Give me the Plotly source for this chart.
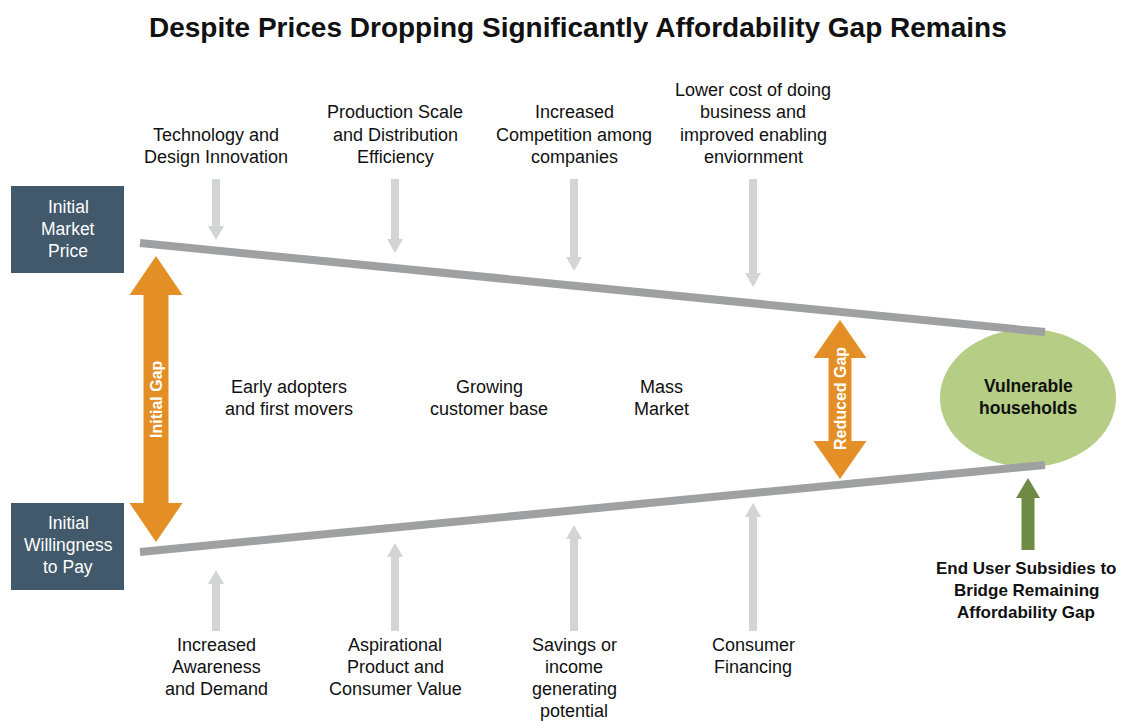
import plotly.graph_objects as go

# ---------------- content ----------------
title_text = "Despite Prices Dropping Significantly Affordability Gap Remains"
top_drivers = ["Technology and<br>Design Innovation",
               "Production Scale<br>and Distribution<br>Efficiency",
               "Increased<br>Competition among<br>companies",
               "Lower cost of doing<br>business and<br>improved enabling<br>enviornment"]
bottom_drivers = ["Increased<br>Awareness<br>and Demand",
                  "Aspirational<br>Product and<br>Consumer Value",
                  "Savings or<br>income<br>generating<br>potential",
                  "Consumer<br>Financing"]
stages = ["Early adopters<br>and first movers", "Growing<br>customer base", "Mass<br>Market"]
box_labels = ["Initial<br>Market<br>Price", "Initial<br>Willingness<br>to Pay"]
gap_labels = ["Initial Gap", "Reduced Gap"]
end_label = "Vulnerable<br>households"
subsidy_label = "End User Subsidies to<br>Bridge Remaining<br>Affordability Gap"

# ---------------- layout geometry ----------------
W, H = 1125, 721
OFF = 8  # page body margin
FONT = "Liberation Sans, Arial, sans-serif"
C_BOX = "#41596a"
C_ORANGE = "#e38f26"
C_LINE = "#9fa0a2"
C_ARROW = "#d3d4d5"
C_ELLIPSE = "#b5cd84"
C_GREEN = "#6e8b45"

driver_x = [216, 395, 574, 753]
top_tips = [240, 253, 271, 287]
bottom_tips = [570, 543, 525, 503]

shapes = []
annotations = []


def text_lines(label, x, y0, size=18, color="#111", bold=False, step=22.3):
    for i, ln in enumerate(label.split("<br>")):
        t = f"<b>{ln}</b>" if bold else ln
        annotations.append(dict(x=x, y=y0 + i * step, text=t, showarrow=False,
                                xanchor="center", yanchor="middle",
                                font=dict(family=FONT, size=size, color=color)))


def arrow_down(x, y_top, y_tip, sw, hw, hl, color):
    p = (f"M {x-sw/2},{y_top} L {x+sw/2},{y_top} L {x+sw/2},{y_tip-hl} "
         f"L {x+hw/2},{y_tip-hl} L {x},{y_tip} L {x-hw/2},{y_tip-hl} "
         f"L {x-sw/2},{y_tip-hl} Z")
    shapes.append(dict(type="path", path=p, fillcolor=color, line=dict(width=0), layer="above"))


def arrow_up(x, y_bot, y_tip, sw, hw, hl, color):
    p = (f"M {x-sw/2},{y_bot} L {x+sw/2},{y_bot} L {x+sw/2},{y_tip+hl} "
         f"L {x+hw/2},{y_tip+hl} L {x},{y_tip} L {x-hw/2},{y_tip+hl} "
         f"L {x-sw/2},{y_tip+hl} Z")
    shapes.append(dict(type="path", path=p, fillcolor=color, line=dict(width=0), layer="above"))


def double_arrow(x, y1, y2, sw, hw, hl, color):
    p = (f"M {x},{y1} L {x+hw/2},{y1+hl} L {x+sw/2},{y1+hl} L {x+sw/2},{y2-hl} "
         f"L {x+hw/2},{y2-hl} L {x},{y2} L {x-hw/2},{y2-hl} L {x-sw/2},{y2-hl} "
         f"L {x-sw/2},{y1+hl} L {x-hw/2},{y1+hl} Z")
    shapes.append(dict(type="path", path=p, fillcolor=color, line=dict(width=0), layer="above"))


# ellipse (under the lines)
shapes.append(dict(type="circle", x0=940, x1=1116, y0=329, y1=467,
                   fillcolor=C_ELLIPSE, line=dict(width=0), layer="above"))

# price / willingness lines
shapes.append(dict(type="line", x0=140, y0=243, x1=1045, y1=332,
                   line=dict(color=C_LINE, width=8), layer="above"))
shapes.append(dict(type="line", x0=140, y0=552, x1=1045, y1=465,
                   line=dict(color=C_LINE, width=8), layer="above"))

# boxes
for (y0, y1), lab, ty in zip([(186, 273), (503, 590)], box_labels, [207, 523]):
    shapes.append(dict(type="rect", x0=11, x1=124, y0=y0, y1=y1,
                       fillcolor=C_BOX, line=dict(width=0), layer="above"))
    text_lines(lab, 68, ty, size=17.5, color="white", step=22)

# driver arrows and labels
for x, tip, lab in zip(driver_x, top_tips, top_drivers):
    arrow_down(x, 179, tip, 8, 16, 14, C_ARROW)
    n = len(lab.split("<br>"))
    text_lines(lab, x, 157 - (n - 1) * 22.3)
for x, tip, lab in zip(driver_x, bottom_tips, bottom_drivers):
    arrow_up(x, 631, tip, 8, 16, 14, C_ARROW)
    text_lines(lab, x, 645, step=22)

# stage labels
for x, lab in zip([289, 489, 661], stages):
    text_lines(lab, x, 387)

# gap arrows
double_arrow(156, 256, 542, 25, 53, 39, C_ORANGE)
double_arrow(840, 320, 479, 23, 53, 38, C_ORANGE)
for x, y, lab in zip([156, 840], [399, 399], gap_labels):
    annotations.append(dict(x=x, y=y, text=f"<b>{lab}</b>", showarrow=False, textangle=-90,
                            xanchor="center", yanchor="middle",
                            font=dict(family=FONT, size=16, color="white")))

# ellipse label
text_lines(end_label, 1028, 386, size=17.5, bold=True, color="#111", step=22)

# subsidy arrow + label
arrow_up(1028, 550, 478, 13, 24, 20, C_GREEN)
text_lines(subsidy_label, 1026, 568, size=17, bold=True, color="#111", step=22)

# title
annotations.append(dict(x=578, y=27, text=f"<b>{title_text}</b>", showarrow=False,
                        xanchor="center", yanchor="middle",
                        font=dict(family=FONT, size=28, color="#111")))

fig = go.Figure()
fig.add_trace(go.Scatter(x=[OFF, W], y=[OFF, H], mode="markers",
                         marker=dict(opacity=0), hoverinfo="skip", showlegend=False))
fig.update_layout(width=W - OFF, height=H - OFF, margin=dict(l=0, r=0, t=0, b=0),
                  paper_bgcolor="white", plot_bgcolor="white",
                  shapes=shapes, annotations=annotations,
                  xaxis=dict(range=[OFF, W], visible=False, fixedrange=True),
                  yaxis=dict(range=[H, OFF], visible=False, fixedrange=True))
fig.write_html("out.html")
